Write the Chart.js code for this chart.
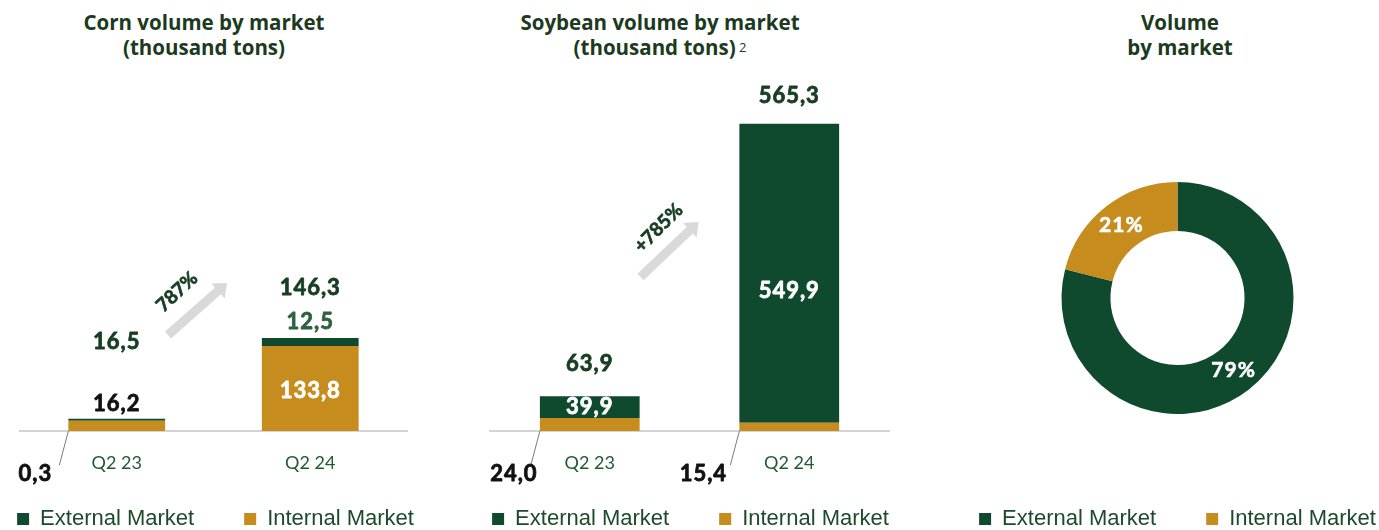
<!DOCTYPE html>
<html>
<head>
<meta charset="utf-8">
<script src="https://cdn.jsdelivr.net/npm/chart.js@4.4.1/dist/chart.umd.min.js"></script>
<style>
  body { margin: 0; background: #fff; }
  #page { position: relative; width: 1379px; height: 530px; overflow: hidden; }
  canvas { position: absolute; top: 0; }
  .title { position: absolute; top: 10px; font: bold 20.5px 'Open Sans'; color: #1b3a20; text-align: center;
           line-height: 25px; transform: translateX(-50%); white-space: nowrap; }
  .title sup { font-weight: normal; font-size: 13px; color: #1b3a20; position: relative; top: -3px; vertical-align: baseline; }
</style>
</head>
<body>
<div id="page">
  <div class="title" style="left:204px">Corn volume by market<br>(thousand tons)</div>
  <div class="title" style="left:660px">Soybean volume by market<br>(thousand tons)<sup> 2</sup></div>
  <div class="title" style="left:1180px">Volume<br>by market</div>
  <canvas id="corn" width="551" height="540" style="left:-60px"></canvas>
  <canvas id="soy" width="561" height="540" style="left:410px"></canvas>
  <canvas id="share" width="561" height="540" style="left:894px"></canvas>
</div>
<script>
const categories = ['Q2 23', 'Q2 24'];
const cornInternal = [16.2, 133.8];
const cornExternal = [0.3, 12.5];
const soyInternal = [24.0, 15.4];
const soyExternal = [39.9, 549.9];
const marketLabels = ['External Market', 'Internal Market'];
const marketShare = [79, 21];
const cornGrowth = '787%';
const soyGrowth = '+785%';

const GREEN = '#0f4a2e';
const GOLD = '#c68c1e';
const DARK = '#173d22';

const fmt = v => v.toFixed(1).replace('.', ',');

// bold text with a thin outline of the same colour, to get a heavier weight
function heavyText(ctx, text, x, y, color, weight) {
  ctx.fillStyle = color;
  ctx.strokeStyle = color;
  ctx.lineWidth = weight;
  ctx.lineJoin = 'round';
  ctx.strokeText(text, x, y);
  ctx.fillText(text, x, y);
}

// category names under the axis + value labels on the stacked bars
const barLabels = {
  id: 'barLabels',
  afterDatasetsDraw(chart, args, opts) {
    const ctx = chart.ctx;
    const ds = chart.data.datasets;
    const xs = chart.scales.x;
    const zero = chart.scales.y.getPixelForValue(0);
    ctx.save();
    ctx.textAlign = 'center';
    ctx.textBaseline = 'middle';
    ctx.font = '18px Lato';
    ctx.fillStyle = '#1f5a30';
    chart.data.labels.forEach((lab, i) => ctx.fillText(lab, xs.getPixelForValue(i), zero + 32));

    ctx.font = 'bold 22px Lato';
    ctx.letterSpacing = '1px';
    opts.spots.forEach(s => {
      const bar = chart.getDatasetMeta(s.ds).data[s.i];
      const left = bar.x - bar.width / 2;
      let text = fmt(ds[s.ds].data[s.i]);
      let x = bar.x, y;
      if (s.mode === 'total') {
        const top = chart.getDatasetMeta(ds.length - 1).data[s.i];
        text = fmt(ds.reduce((sum, d) => sum + d.data[s.i], 0));
        y = top.y + s.dy;
      } else if (s.mode === 'above') {
        y = bar.y + s.dy;
      } else if (s.mode === 'center') {
        y = (bar.y + bar.base) / 2 + s.dy;
      } else if (s.mode === 'callout') {
        ctx.strokeStyle = '#7a7a7a';
        ctx.lineWidth = 1;
        ctx.beginPath();
        ctx.moveTo(left, zero);
        ctx.lineTo(left - 9, zero + 34);
        ctx.stroke();
        x = left + s.dx;
        y = zero + 43;
      }
      heavyText(ctx, text, x, y, s.color, 0.8);
    });
    ctx.restore();
  }
};

// grey growth arrow between the two bars
const growthArrow = {
  id: 'growthArrow',
  afterDatasetsDraw(chart, args, o) {
    const meta = chart.getDatasetMeta(0);
    const a = meta.data[0], b = meta.data[1];
    const mx = (a.x + a.width / 2 + b.x - b.width / 2) / 2;
    const base = chart.scales.y.getPixelForValue(0);
    const x1 = mx + o.from[0], y1 = base + o.from[1];
    const x2 = mx + o.to[0], y2 = base + o.to[1];
    const len = Math.hypot(x2 - x1, y2 - y1);
    const ctx = chart.ctx;
    ctx.save();
    ctx.translate(x1, y1);
    ctx.rotate(Math.atan2(y2 - y1, x2 - x1));
    ctx.fillStyle = '#d9d9d9';
    ctx.beginPath();
    ctx.moveTo(0, -4.5);
    ctx.lineTo(len - 12, -4.5);
    ctx.lineTo(len - 12, -10);
    ctx.lineTo(len, 0);
    ctx.lineTo(len - 12, 10);
    ctx.lineTo(len - 12, 4.5);
    ctx.lineTo(0, 4.5);
    ctx.closePath();
    ctx.fill();
    ctx.restore();

    ctx.save();
    ctx.translate(mx + o.label[0], base + o.label[1]);
    ctx.rotate(o.angle * Math.PI / 180);
    ctx.font = 'bold 19px Lato';
    ctx.textAlign = 'center';
    ctx.textBaseline = 'middle';
    heavyText(ctx, o.text, 0, 0, DARK, 0.7);
    ctx.restore();
  }
};

const shareLabels = {
  id: 'shareLabels',
  afterDatasetsDraw(chart) {
    const ctx = chart.ctx;
    ctx.save();
    ctx.font = 'bold 21px Lato';
    ctx.letterSpacing = '1px';
    ctx.textAlign = 'center';
    ctx.textBaseline = 'middle';
    chart.getDatasetMeta(0).data.forEach((arc, i) => {
      const p = arc.tooltipPosition();
      heavyText(ctx, chart.data.datasets[0].data[i] + '%', p.x, p.y, '#fff', 0.6);
    });
    ctx.restore();
  }
};

const legendOpts = {
  position: 'bottom',
  labels: {
    boxWidth: 12, boxHeight: 12, padding: 50, color: '#1d4a2a',
    font: { family: 'Liberation Sans', size: 22 }
  }
};

function stackedChart(id, internal, external, yMax, rightWidth, spots, growth) {
  return new Chart(document.getElementById(id), {
    type: 'bar',
    data: {
      labels: categories,
      datasets: [
        { label: 'Internal Market', data: internal, backgroundColor: GOLD },
        { label: 'External Market', data: external, backgroundColor: GREEN, minBarLength: 2 }
      ]
    },
    options: {
      responsive: false,
      animation: false,
      events: [],
      layout: { padding: { top: 80 } },
      datasets: { bar: { categoryPercentage: 1, barPercentage: 0.5, borderWidth: 0 } },
      scales: {
        x: {
          stacked: true,
          grid: { display: false, drawTicks: false },
          border: { color: '#d4d4d4', width: 2 },
          ticks: { display: false },
          afterFit: s => { s.height = 27; }
        },
        y: {
          stacked: true, min: 0, max: yMax,
          ticks: { display: false }, grid: { display: false }, border: { display: false },
          afterFit: s => { s.width = 80; }
        },
        yr: {
          type: 'linear', position: 'right',
          ticks: { display: false }, grid: { display: false }, border: { display: false },
          afterFit: s => { s.width = rightWidth; }
        }
      },
      plugins: {
        legend: { ...legendOpts, reverse: true },
        tooltip: { enabled: false },
        barLabels: { spots },
        growthArrow: growth
      }
    },
    plugins: [barLabels, growthArrow]
  });
}

stackedChart('corn', cornInternal, cornExternal, 552, 84, [
  { ds: 1, i: 0, mode: 'total', dy: -77, color: DARK },
  { ds: 0, i: 0, mode: 'above', dy: -17, color: '#111' },
  { ds: 1, i: 0, mode: 'callout', dx: -33, color: '#111' },
  { ds: 1, i: 1, mode: 'total', dy: -50, color: DARK },
  { ds: 1, i: 1, mode: 'above', dy: -16, color: '#2e6140' },
  { ds: 0, i: 1, mode: 'center', dy: 2, color: '#fff' }
], { from: [-45.5, -96], to: [13.5, -148], label: [-36.5, -139], angle: -43, text: cornGrowth });

stackedChart('soy', soyInternal, soyExternal, 646, 82, [
  { ds: 1, i: 0, mode: 'total', dy: -32, color: DARK },
  { ds: 1, i: 0, mode: 'center', dy: 0, color: '#fff' },
  { ds: 0, i: 0, mode: 'callout', dx: -26, color: '#111' },
  { ds: 1, i: 1, mode: 'total', dy: -28, color: DARK },
  { ds: 1, i: 1, mode: 'center', dy: 18, color: '#fff' },
  { ds: 0, i: 1, mode: 'callout', dx: -36, color: '#111' }
], { from: [-49, -154], to: [9, -209], label: [-31, -203], angle: -45, text: soyGrowth });

new Chart(document.getElementById('share'), {
  type: 'doughnut',
  data: {
    labels: marketLabels,
    datasets: [{ data: marketShare, backgroundColor: [GREEN, GOLD], borderWidth: 0, radius: 116, cutout: '57.8%' }]
  },
  options: {
    responsive: false,
    animation: false,
    events: [],
    layout: { padding: { top: 138, left: 6 } },
    plugins: { legend: legendOpts, tooltip: { enabled: false } }
  },
  plugins: [shareLabels]
});
</script>
</body>
</html>
